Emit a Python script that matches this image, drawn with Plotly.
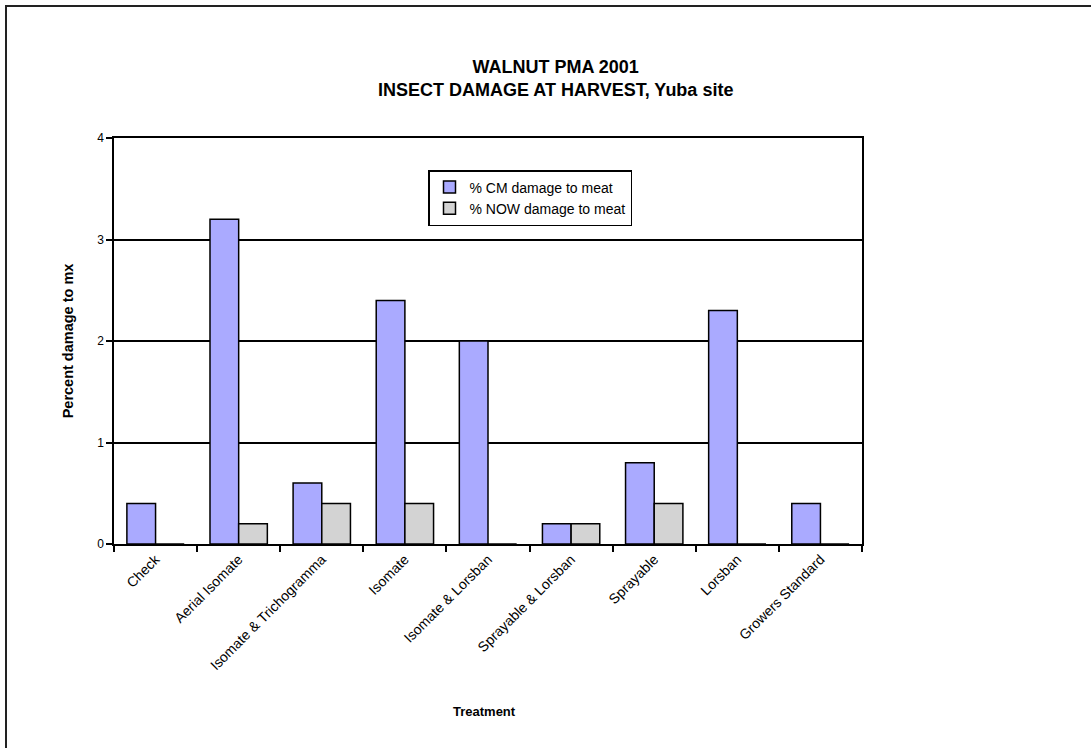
import plotly.graph_objects as go

treatments = ["Check", "Aerial Isomate", "Isomate & Trichogramma", "Isomate",
              "Isomate & Lorsban", "Sprayable & Lorsban", "Sprayable", "Lorsban",
              "Growers Standard"]
cm_damage = [0.4, 3.2, 0.6, 2.4, 2.0, 0.2, 0.8, 2.3, 0.4]
now_damage = [0.0, 0.2, 0.4, 0.4, 0.0, 0.2, 0.4, 0.0, 0.0]
y_ticks = [0, 1, 2, 3, 4]

FONT = "Liberation Sans, Arial, sans-serif"

W, H = 1091, 748
L, R, T, B = 114, 862, 138, 544

def px(x):
    return (x - L) / (R - L)

def py(y):
    return (B - y) / (B - T)

fig = go.Figure()
fig.add_trace(go.Bar(x=treatments, y=cm_damage, name="% CM damage to meat",
                     marker=dict(color="#AAAAFF", line=dict(color="black", width=1.5))))
fig.add_trace(go.Bar(x=treatments, y=now_damage, name="% NOW damage to meat",
                     marker=dict(color="#D3D3D3", line=dict(color="black", width=1.5))))

fig.update_layout(
    width=W, height=H,
    margin=dict(l=L, r=W - R, t=T, b=H - B, pad=0),
    paper_bgcolor="white", plot_bgcolor="white",
    barmode="group", bargap=0.31, bargroupgap=0.0,
    font=dict(family=FONT, color="black", size=12),
    showlegend=True,
    legend=dict(x=px(428), y=py(170), xanchor="left", yanchor="top",
                bgcolor="white", bordercolor="black", borderwidth=1.5,
                font=dict(size=14, family=FONT), itemwidth=30,
                tracegroupgap=0),
    xaxis=dict(
        type="category", showline=True, linecolor="black", linewidth=1.5,
        mirror=True, ticks="outside", tickson="boundaries", ticklen=6,
        tickwidth=1.5, tickcolor="black", tickangle=-45,
        tickfont=dict(size=14, family=FONT), showgrid=False,
    ),
    yaxis=dict(
        range=[0, 4], tickvals=y_ticks, showline=True, linecolor="black",
        linewidth=1.5, mirror=True, ticks="outside", ticklen=6, tickwidth=1.5,
        tickcolor="black", showgrid=True, gridcolor="black", gridwidth=1.5,
        zeroline=False, tickfont=dict(size=12, family=FONT),
        title=dict(text="<b>Percent damage to mx</b>", font=dict(size=14.5, family=FONT), standoff=20),
    ),
    annotations=[
        dict(text="<b>WALNUT PMA 2001</b><br><b>INSECT DAMAGE AT HARVEST, Yuba site</b>",
             xref="paper", yref="paper", x=px(555), y=py(55), xanchor="center",
             yanchor="top", showarrow=False, align="center",
             font=dict(size=18, family=FONT, color="black")),
        dict(text="<b>Treatment</b>", xref="paper", yref="paper", x=px(484), y=py(711),
             xanchor="center", yanchor="middle", showarrow=False,
             font=dict(size=13, family=FONT, color="black")),
    ],
    shapes=[
        dict(type="rect", xref="paper", yref="paper", x0=px(6), y0=py(760),
             x1=px(1100), y1=py(6), line=dict(color="#222222", width=2),
             fillcolor="rgba(0,0,0,0)", layer="below"),
    ],
)

fig.write_html("out.html")
